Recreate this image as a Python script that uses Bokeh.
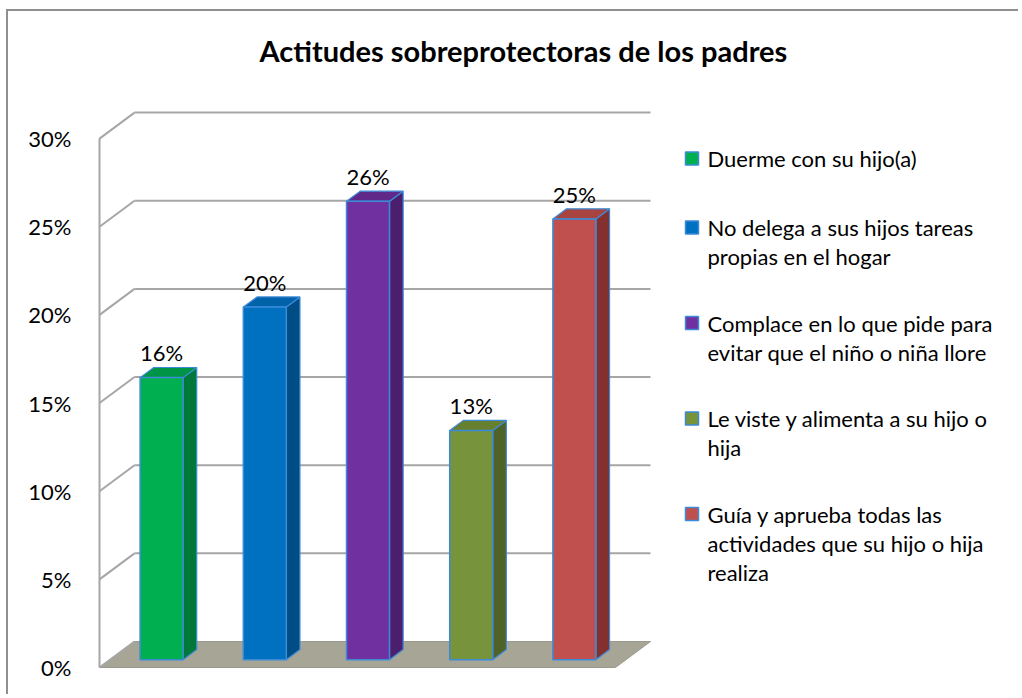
from bokeh.plotting import figure
from bokeh.models import Range1d, FixedTicker, ColumnDataSource
from bokeh.core.properties import value
from bokeh.embed import file_html
from bokeh.resources import INLINE

# ---------------- data ----------------
categories = [
    "Duerme con su hijo(a)",
    "No delega a sus hijos tareas\npropias en el hogar",
    "Complace en lo que pide para\nevitar que el niño o niña llore",
    "Le viste y alimenta a su hijo o\nhija",
    "Guía y aprueba todas las\nactividades que su hijo o hija\nrealiza",
]
values = [16, 20, 26, 13, 25]
tick_values = [0, 5, 10, 15, 20, 25, 30]
tick_labels = ["0%", "5%", "10%", "15%", "20%", "25%", "30%"]
title_text = "Actitudes sobreprotectoras de los padres"

front_colors = ["#00b050", "#0070c0", "#7030a0", "#77933c", "#c0504d"]
side_colors = ["#00783a", "#004d86", "#4b1f6e", "#4f6228", "#84302f"]
top_colors = ["#009446", "#0062a8", "#5f2889", "#67802f", "#a84340"]

# ---------------- layout constants ----------------
W, H = 1012, 685
CANVAS_X0, CANVAS_Y0 = 8, 11
MIN_LEFT, MIN_TOP = 87, 60
PX_X = 103.2          # px per category unit
PX_Y = 17.63          # px per percent
AXIS_SX, ZERO_SY = 99, 667  # screen position of front axis / 0%
DX = 35 / PX_X        # depth offset in x units
DY = 26 / PX_Y        # depth offset in y units
F0, F1 = 0.30, 0.69   # bar depth (front / back) fraction
HALF_W = 21.5 / PX_X

frame_left = CANVAS_X0 + MIN_LEFT
frame_right = CANVAS_X0 + W
frame_top = CANVAS_Y0 + MIN_TOP
frame_bottom = CANVAS_Y0 + H
x_start = (frame_left - AXIS_SX) / PX_X
x_end = (frame_right - AXIS_SX) / PX_X
y_start = -(frame_bottom - ZERO_SY) / PX_Y
y_end = (ZERO_SY - frame_top) / PX_Y


def sx_to_x(sx):
    return (sx - AXIS_SX) / PX_X


def sy_to_y(sy):
    return (ZERO_SY - sy) / PX_Y


p = figure(width=W, height=H, output_backend="svg", toolbar_location=None,
           x_range=Range1d(x_start, x_end), y_range=Range1d(y_start, y_end),
           x_axis_type=None, min_border_left=MIN_LEFT, min_border_top=MIN_TOP,
           min_border_right=0, min_border_bottom=0, outline_line_color=None,
           background_fill_color="white", border_fill_color="white")
p.styles = {"border-top": "2px solid #8f8f8f", "border-left": "2px solid #8f8f8f",
            "margin-left": "6px", "margin-top": "9px"}

p.title.text = title_text
p.title.text_font = "Lato"
p.title.text_font_size = "29px"
p.title.text_font_style = "bold"
p.title.align = "left"
p.title.offset = 164
p.title.standoff = 8
p.title.text_color = "#000000"

p.ygrid.visible = False
ax = p.yaxis[0]
ax.ticker = FixedTicker(ticks=tick_values)
ax.major_label_overrides = {v: l for v, l in zip(tick_values, tick_labels)}
ax.axis_line_color = None
ax.major_tick_line_color = None
ax.minor_tick_line_color = None
ax.major_tick_out = 0
ax.major_tick_in = 0
ax.major_label_standoff = 24
ax.major_label_text_font = "Lato"
ax.major_label_text_font_size = "22px"
ax.major_label_text_color = "#000000"

n = len(values)
grid_col = "#a6a6a6"

# floor
p.patch([0, n, n + DX, DX], [0, 0, DY, DY], fill_color="#a6a596", line_color="#9a9a8c", line_width=1)

# walls: back gridlines + side diagonals + front axis
top_v = tick_values[-1]
p.segment(x0=[DX] * (len(tick_values) - 1), y0=[v + DY for v in tick_values[1:]],
          x1=[DX + n] * (len(tick_values) - 1), y1=[v + DY for v in tick_values[1:]],
          line_color=grid_col, line_width=2)
p.segment(x0=[0] * len(tick_values), y0=tick_values,
          x1=[DX] * len(tick_values), y1=[v + DY for v in tick_values],
          line_color=grid_col, line_width=2)
p.segment(x0=[0], y0=[0], x1=[0], y1=[top_v], line_color=grid_col, line_width=2)

# bars
centers = [i + 0.5 for i in range(n)]
ox0, oy0 = F0 * DX, F0 * DY
ox1, oy1 = F1 * DX, F1 * DY
left = [c - HALF_W + ox0 for c in centers]
right = [c + HALF_W + ox0 for c in centers]
bottom = [oy0] * n
top = [v + oy0 for v in values]
ddx, ddy = ox1 - ox0, oy1 - oy0

side_xs = [[r, r + ddx, r + ddx, r] for r in right]
side_ys = [[b, b + ddy, t + ddy, t] for b, t in zip(bottom, top)]
top_xs = [[l, r, r + ddx, l + ddx] for l, r in zip(left, right)]
top_ys = [[t, t, t + ddy, t + ddy] for t in top]
outline = "#3d8bd8"
p.patches(side_xs, side_ys, fill_color=side_colors, line_color=outline, line_width=1.2)
p.patches(top_xs, top_ys, fill_color=top_colors, line_color=outline, line_width=1.2)
src = ColumnDataSource(dict(left=left, right=right, bottom=bottom, top=top,
                            color=front_colors, label=categories))
p.quad(left="left", right="right", bottom="bottom", top="top", source=src,
       fill_color="color", line_color=outline, line_width=1.5)

# data labels
p.text(x=[c + ox0 for c in centers], y=[t + ddy for t in top],
       text=[f"{v}%" for v in values], text_align="center", text_baseline="bottom",
       y_offset=-1, text_font=value("Lato"), text_font_size="22px", text_color="#000000")

# legend (drawn manually so the swatch sits on the first line of wrapped labels)
LEG_SWATCH_SX, LEG_TEXT_SX, LEG_FIRST_SY = 691.5, 707, 158
LEG_ITEM_LINE, LEG_ITEM_GAP, LEG_LINE_H = 26.5, 42.5, 29
sw_y, tx_x, tx_y, tx_t = [], [], [], []
cur = LEG_FIRST_SY
for lab in categories:
    lines = lab.split("\n")
    sw_y.append(sy_to_y(cur))
    for k, ln in enumerate(lines):
        tx_x.append(sx_to_x(LEG_TEXT_SX))
        tx_y.append(sy_to_y(cur + k * LEG_LINE_H))
        tx_t.append(ln)
    cur += LEG_ITEM_LINE * len(lines) + LEG_ITEM_GAP
p.rect(x=[sx_to_x(LEG_SWATCH_SX)] * n, y=sw_y, width=13, height=13,
       width_units="screen", height_units="screen",
       fill_color=front_colors, line_color=outline, line_width=1.5)
p.text(x=tx_x, y=tx_y, text=tx_t, text_align="left", text_baseline="middle",
       text_font=value("Lato"), text_font_size="22px", text_color="#000000")

open("out.html", "w").write(file_html(p, INLINE))
